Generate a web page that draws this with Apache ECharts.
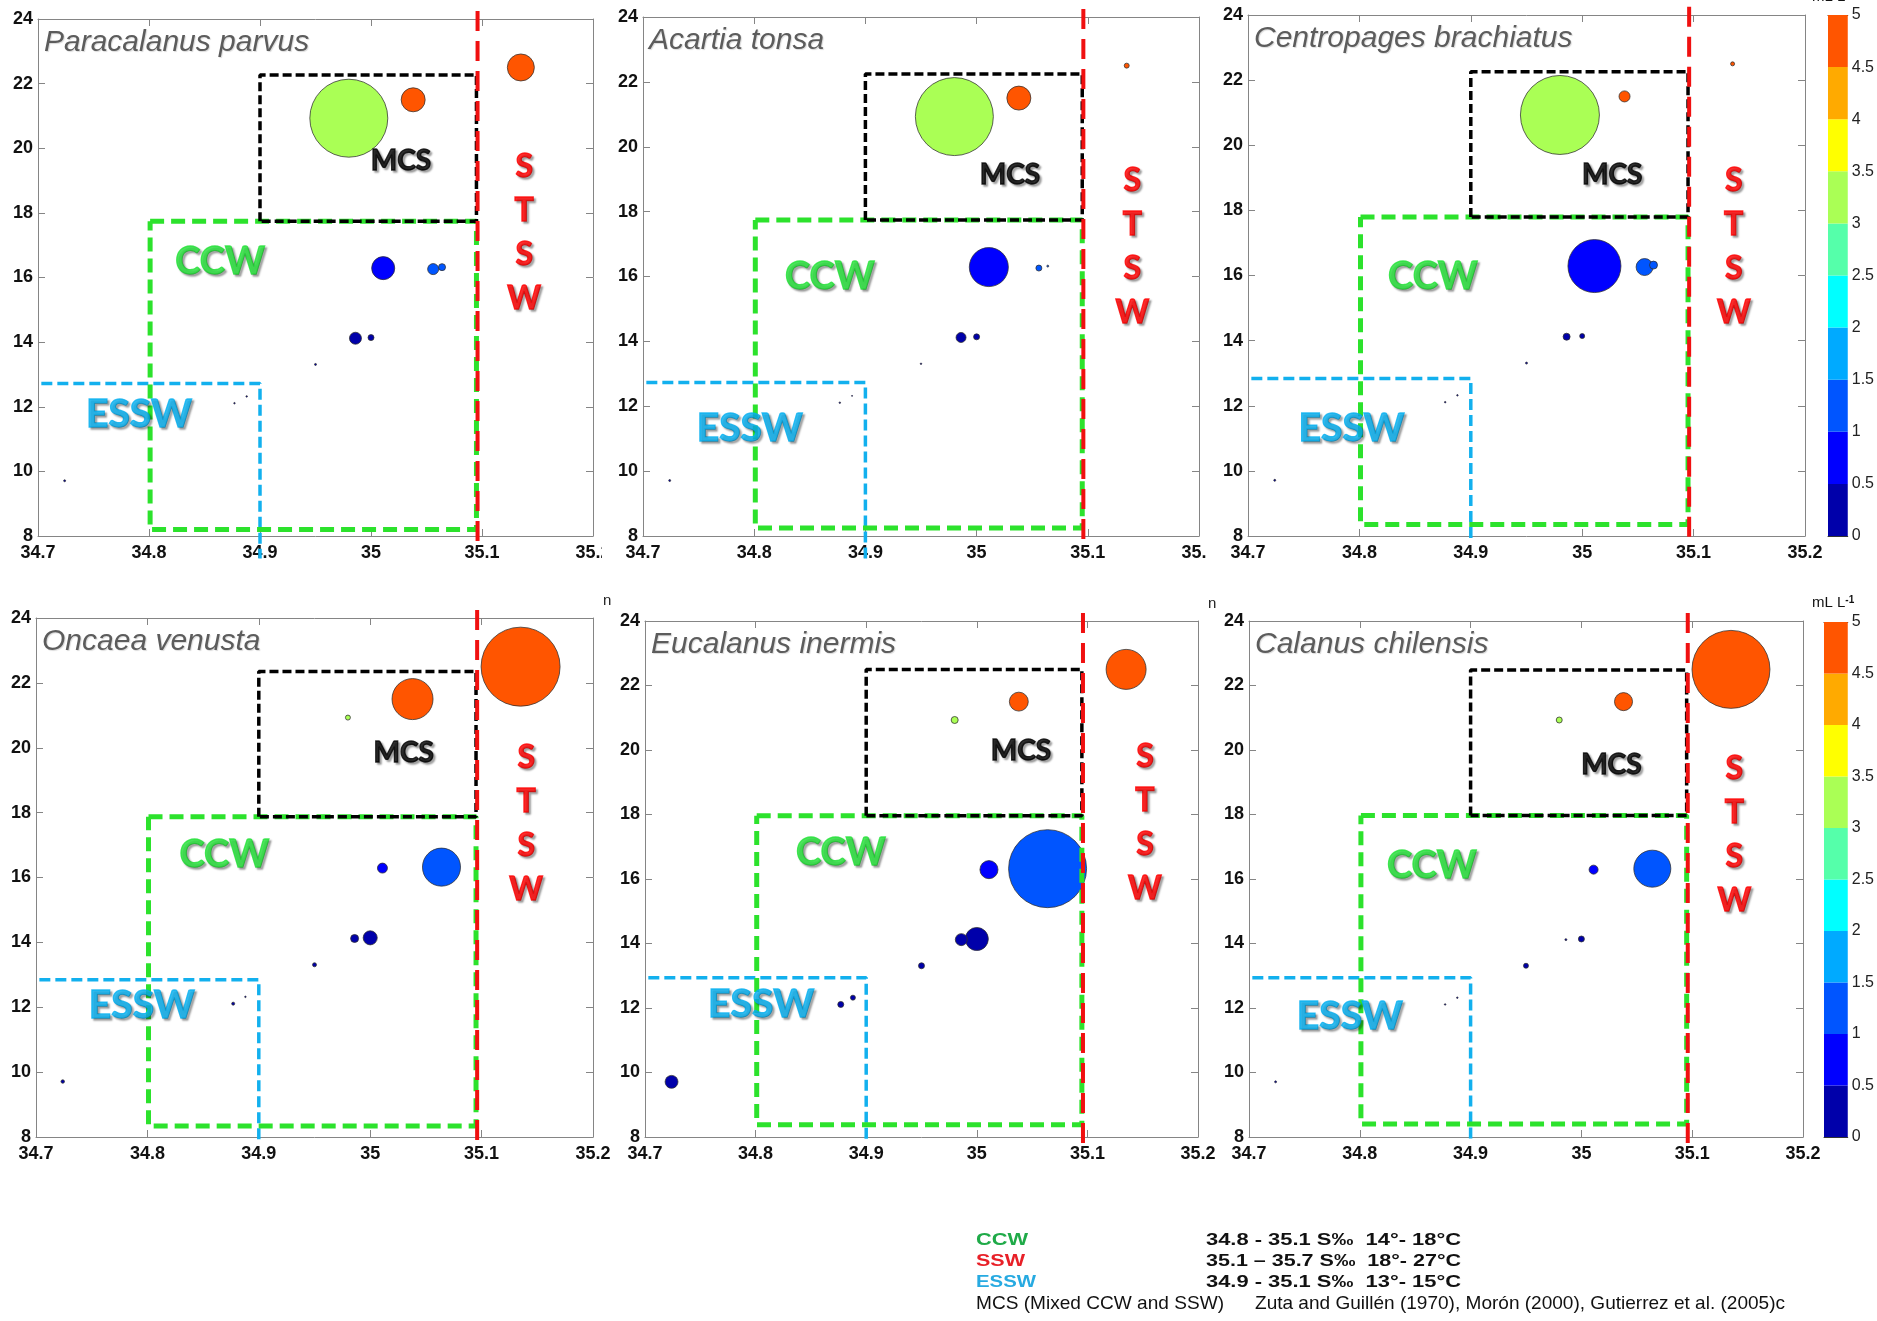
<!DOCTYPE html>
<html><head><meta charset="utf-8">
<script src="https://cdn.jsdelivr.net/npm/echarts@6/dist/echarts.min.js"></script>
<style>html,body{margin:0;padding:0;background:#fff;}#c{width:1877px;height:1321px;}</style>
</head><body><div id="c"></div>
<script>
// ---------------- DATA ----------------
const species = ['Paracalanus parvus','Acartia tonsa','Centropages brachiatus','Oncaea venusta','Eucalanus inermis','Calanus chilensis'];
// stations: salinity (x), temperature (y), dissolved oxygen (colour, mL L-1)
const salinity    = [35.135, 35.038, 34.980, 35.011, 35.056, 35.064, 34.986, 35.000, 34.950, 34.877, 34.888, 34.724];
const temperature = [22.50, 21.50, 20.93, 16.29, 16.26, 16.32, 14.12, 14.14, 13.31, 12.11, 12.32, 9.71];
const oxygen      = [4.7, 4.7, 3.2, 0.8, 1.2, 1.2, 0.3, 0.3, 0.2, 0.2, 0.2, 0.2];
// relative abundance per station (bubble size)
const paracalanus = [11.4, 9.0, 95, 8.3, 1.9, 0.77, 2.25, 0.56, 0.06, 0.035, 0.035, 0.06];
const acartia     = [0.39, 9.0, 95, 23.8, 0.56, 0.06, 1.56, 0.56, 0.035, 0.035, 0.016, 0.06];
const centropages = [0.25, 1.9, 97.5, 43.9, 4.5, 1.0, 0.77, 0.39, 0.06, 0.035, 0.035, 0.06];
const oncaea      = [97.5, 26.3, 0.39, 1.56, 0, 22.6, 1.0, 3.1, 0.25, 0.14, 0.035, 0.19];
const eucalanus   = [25, 5.6, 0.77, 5.1, 0, 95, 2.25, 8.3, 0.56, 0.56, 0.39, 2.6];
const calanus     = [95, 5.1, 0.56, 1.27, 0, 21.4, 0.06, 0.56, 0.39, 0.035, 0.035, 0.06];
const abundances = [paracalanus, acartia, centropages, oncaea, eucalanus, calanus];
// colour scale (oxygen) ticks
const oxygenTicks = [0, 0.5, 1, 1.5, 2, 2.5, 3, 3.5, 4, 4.5, 5];
const jetColors = ['#0000AA','#0000FF','#0055FF','#00AAFF','#00FFFF','#55FFAA','#AAFF55','#FFFF00','#FFAA00','#FF5500'];
// water-mass boundaries (salinity / temperature) per panel
const mcsTop    = [22.27, 22.24, 22.26, 22.35, 22.50, 22.48];
const mcsBottom = [17.74, 17.74, 17.80, 17.87, 17.96, 17.97];
const ccwBottom = [8.20, 8.25, 8.35, 8.34, 8.38, 8.40];
const esswTop   = [12.72, 12.73, 12.84, 12.85, 12.94, 12.94];
const esswEnd   = [7.3, 7.3, 7.9, 7.9, 7.9, 7.9];
// water-mass label anchors per panel
const mcsLabel  = [[35.027,19.60],[35.030,19.14],[35.027,19.08],[35.030,19.84],[35.040,19.96],[35.027,19.55]];
const ccwLabel  = [[34.864,16.48],[34.868,15.98],[34.866,15.96],[34.869,16.70],[34.877,16.80],[34.865,16.41]];
const esswLabel = [[34.791,11.77],[34.796,11.32],[34.793,11.31],[34.795,12.07],[34.805,12.11],[34.791,11.73]];
const stswLabel = [[35.138,17.38],[35.140,16.93],[35.136,16.89],[35.140,17.66],[35.152,17.76],[35.138,17.37]];

const X_MIN = 34.7, X_MAX = 35.2, X_INT = 0.1;
const Y_MIN = 8, Y_MAX = 24, Y_INT = 2;

// ---------------- LAYOUT ----------------
const panelGrids = [
  {left:38,   top:19,  width:555, height:517},
  {left:643,  top:17,  width:556, height:519},
  {left:1248, top:15,  width:557, height:521},
  {left:36,   top:618, width:557, height:519},
  {left:645,  top:621, width:553, height:516},
  {left:1249, top:621, width:554, height:516}
];
const cbGrids = [
  {left:1828, top:15,  width:27, height:521},
  {left:1824, top:622, width:28, height:515}
];

const FONT = 'Liberation Sans, Arial, sans-serif';
const LABFONT = 'Lato, Open Sans, sans-serif';
const axisGray = '#858585';
const axisLabelStyle = {color:'#111', fontSize:18, fontWeight:'bold', fontFamily:FONT};

const option = {animation:false, backgroundColor:'#fff', grid:[], xAxis:[], yAxis:[], series:[], title:[], graphic:[], visualMap:[]};
const bubbleIdx = [];
const shadow = {textShadowColor:'rgba(0,0,0,0.4)', textShadowBlur:2, textShadowOffsetX:2, textShadowOffsetY:2};

panelGrids.forEach((g, i) => {
  option.grid.push(Object.assign({containLabel:false}, g));
  const common = {type:'value', gridIndex:i, splitLine:{show:false},
    axisLine:{onZero:false, lineStyle:{color:axisGray, width:1}},
    axisTick:{inside:true, length:7, lineStyle:{color:axisGray}}};
  option.xAxis.push(Object.assign({}, common, {position:'bottom', min:X_MIN, max:X_MAX, interval:X_INT,
    axisLabel:Object.assign({margin:8}, axisLabelStyle)}));
  option.xAxis.push(Object.assign({}, common, {position:'top', min:X_MIN, max:X_MAX, interval:X_INT, axisLabel:{show:false}}));
  option.yAxis.push(Object.assign({}, common, {position:'left', min:Y_MIN, max:Y_MAX, interval:Y_INT,
    axisLabel:Object.assign({margin:5}, axisLabelStyle)}));
  option.yAxis.push(Object.assign({}, common, {position:'right', min:Y_MIN, max:Y_MAX, interval:Y_INT, axisLabel:{show:false}}));

  const xi = 2*i, yi = 2*i;
  // bubbles
  const pts = salinity.map((s, k) => [s, temperature[k], abundances[i][k], oxygen[k]])
    .filter(p => p[2] > 0).sort((a, b) => b[2] - a[2]);
  bubbleIdx.push(option.series.length);
  option.series.push({type:'scatter', xAxisIndex:xi, yAxisIndex:yi, data:pts,
    symbolSize: v => Math.sqrt(v[2]) * 8,
    itemStyle:{borderColor:'rgba(45,45,45,0.75)', borderWidth:1, opacity:1}, z:2});

  // water-mass boxes
  const lineS = (data, color, width, dash, z) => ({type:'line', xAxisIndex:xi, yAxisIndex:yi, data, symbol:'none',
    clip:false, silent:true, z, lineStyle:{color, width, type:dash, cap:'butt'}});
  option.series.push(lineS([[34.703, esswTop[i]],[34.9, esswTop[i]],[34.9, esswEnd[i]]], '#12B0EE', 3.5, [11,5], 3));
  option.series.push(lineS([[34.801, mcsBottom[i]],[35.095, mcsBottom[i]],[35.095, ccwBottom[i]],[34.801, ccwBottom[i]],[34.801, mcsBottom[i]]], '#2CE22C', 5, [14,7], 4));
  option.series.push(lineS([[34.9, mcsBottom[i]],[34.9, mcsTop[i]],[35.095, mcsTop[i]],[35.095, mcsBottom[i]],[34.9, mcsBottom[i]]], '#000000', 3.5, [9,4], 5));
  option.series.push(lineS([[35.096, 24.25],[35.096, 7.7]], '#F01010', 4, [20,10], 6));

  // water-mass labels
  const lab = (pos, text, color, size, extra) => ({value:pos, label:Object.assign({show:true, position:'inside', formatter:text,
    color, fontSize:size, fontWeight:'bold', fontFamily:LABFONT, textBorderColor:color, textBorderWidth:1.3}, shadow, extra || {})});
  option.series.push({type:'scatter', xAxisIndex:xi, yAxisIndex:yi, symbolSize:1, silent:true, z:10,
    itemStyle:{color:'rgba(0,0,0,0)'},
    data:[
      lab(mcsLabel[i], 'MCS', '#000', 28),
      lab(ccwLabel[i], 'CCW', '#26E23A', 38),
      lab(esswLabel[i], 'ESSW', '#08B0F0', 39),
      lab(stswLabel[i], 'S\nT\nS\nW', '#FF0000', 32, {lineHeight:44, align:'center'})
    ]});

  option.title.push({text:species[i], left:g.left + 6, top:g.top + 9, padding:0,
    textStyle:{fontStyle:'italic', fontWeight:'normal', fontSize:30, color:'#5c5c5c', fontFamily:FONT,
      textShadowColor:'rgba(0,0,0,0.15)', textShadowBlur:1, textShadowOffsetX:1, textShadowOffsetY:1}});
});

// colour bars (stacked bars on an oxygen axis)
cbGrids.forEach((g, c) => {
  const gi = panelGrids.length + c;
  option.grid.push(Object.assign({containLabel:false}, g));
  const xa = option.xAxis.length, ya = option.yAxis.length;
  option.xAxis.push({type:'category', gridIndex:gi, data:[''], position:'bottom', axisLabel:{show:false}, axisTick:{show:false},
    axisLine:{onZero:false, lineStyle:{color:'#333', width:1}}});
  option.xAxis.push({type:'category', gridIndex:gi, data:[''], position:'top', axisLabel:{show:false}, axisTick:{show:false},
    axisLine:{onZero:false, lineStyle:{color:'#333', width:1}}});
  option.yAxis.push({type:'value', gridIndex:gi, position:'left', min:0, max:5, interval:0.5, splitLine:{show:false},
    axisLabel:{show:false}, axisTick:{show:false}, axisLine:{onZero:false, lineStyle:{color:'#333', width:1}}});
  option.yAxis.push({type:'value', gridIndex:gi, position:'right', min:0, max:5, interval:0.5, splitLine:{show:false},
    axisLabel:{color:'#222', fontSize:16, fontFamily:FONT, margin:4}, axisTick:{inside:true, length:4, lineStyle:{color:'#222'}},
    axisLine:{onZero:false, lineStyle:{color:'#333', width:1}}});
  for (let k = 0; k < oxygenTicks.length - 1; k++) {
    option.series.push({type:'bar', xAxisIndex:xa, yAxisIndex:ya, stack:'cb' + c, barWidth:'100%', silent:true,
      data:[oxygenTicks[k + 1] - oxygenTicks[k]], itemStyle:{color:jetColors[k]}, z:1});
  }
});

option.visualMap.push({type:'piecewise', show:false, dimension:3, seriesIndex:bubbleIdx,
  pieces: jetColors.map((col, k) => ({gte:oxygenTicks[k], lt: k === jetColors.length - 1 ? 5.01 : oxygenTicks[k + 1], color:col}))});

// colour bar titles
const cbTitle = (x, y) => ({type:'text', x, y, z:50, style:{text:'{a|mL L}{b|-1}', verticalAlign:'middle',
  rich:{a:{fontSize:15, fontFamily:FONT, fill:'#111', color:'#111'}, b:{fontSize:10, fontWeight:'bold', fontFamily:FONT, fill:'#111', color:'#111', verticalAlign:'top'}}}});
option.graphic.push(cbTitle(1812, -3));
option.graphic.push(cbTitle(1812, 603));
// cropped colour-bar titles of the hidden panels
option.graphic.push({type:'text', x:603, y:601, z:50, style:{text:'n', font:'15px ' + FONT, fill:'#222', verticalAlign:'middle'}});
option.graphic.push({type:'text', x:1208, y:604, z:50, style:{text:'n', font:'15px ' + FONT, fill:'#222', verticalAlign:'middle'}});
// cropping of the last tick label in top-row panels 1 and 2
option.graphic.push({type:'rect', z:40, shape:{x:602, y:540, width:24, height:28}, style:{fill:'#fff'}});
option.graphic.push({type:'rect', z:40, shape:{x:1207, y:540, width:24, height:28}, style:{fill:'#fff'}});

// water-mass definitions (bottom legend)
const mctx = document.createElement('canvas').getContext('2d');
function fit(text, font, w) { mctx.font = font; return w / mctx.measureText(text).width; }
const legendRows = [
  {a:'CCW', ca:'#1FAA48', wa:52, b:'34.8 - 35.1 S‰  14°- 18°C', wb:255, y:1241, bold:true},
  {a:'SSW', ca:'#E82028', wa:49, b:'35.1 – 35.7 S‰  18°- 27°C', wb:255, y:1262, bold:true},
  {a:'ESSW', ca:'#27AAE1', wa:60, b:'34.9 - 35.1 S‰  13°- 15°C', wb:255, y:1283, bold:true},
  {a:'MCS (Mixed CCW and SSW)', ca:'#111', wa:248, b:'Zuta and Guillén (1970), Morón (2000), Gutierrez et al. (2005)c', wb:530, y:1304, bold:false, xb:1255}
];
legendRows.forEach(r => {
  const font = r.bold ? 'bold 16px ' + FONT : '19px ' + FONT;
  option.graphic.push({type:'text', x:976, y:r.y, scaleX:fit(r.a, font, r.wa), z:50,
    style:{text:r.a, font, fill:r.ca, verticalAlign:'middle', align:'left'}});
  option.graphic.push({type:'text', x:r.xb || 1206, y:r.y, scaleX:fit(r.b, font, r.wb), z:50,
    style:{text:r.b, font, fill:'#111', verticalAlign:'middle', align:'left'}});
});

const chart = echarts.init(document.getElementById('c'));
chart.setOption(option);
</script>
</body></html>
